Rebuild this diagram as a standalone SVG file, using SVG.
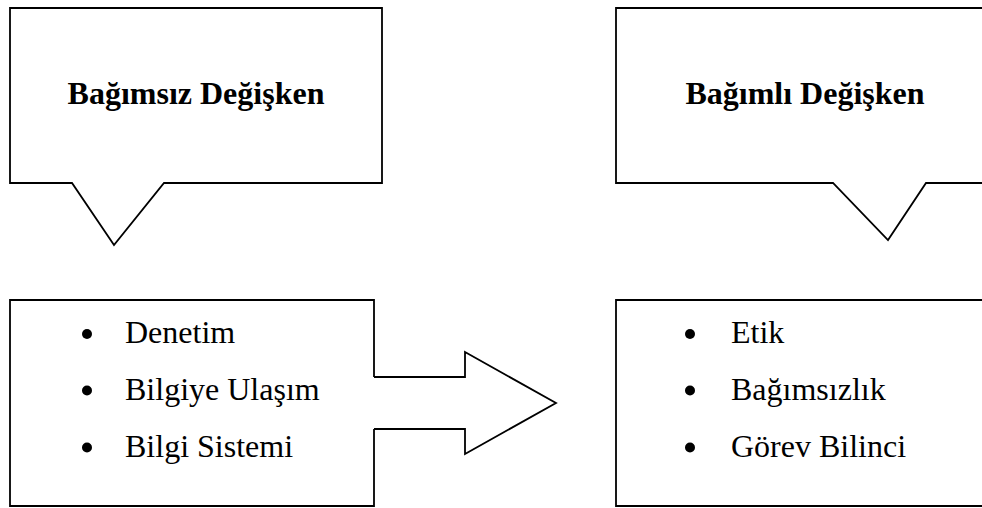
<svg xmlns="http://www.w3.org/2000/svg" width="982" height="508" viewBox="0 0 982 508">
<style>
.sh{fill:none;stroke:#000;stroke-width:1.8;stroke-linejoin:miter}
.t{font-family:"Liberation Serif","Times New Roman",serif;font-size:32px;fill:#000}
.b{font-weight:bold;text-anchor:middle}
.dot{fill:#000}
</style>
<rect width="982" height="508" fill="#fff"/>
<g id="callout-independent">
<path class="sh" d="M10,8 H382 V183 H164 L114,245 L72,183 H10 Z"/>
<text class="t b" x="196" y="104">Bağımsız Değişken</text>
</g>
<g id="callout-dependent">
<path class="sh" d="M990,8 H616 V183 H833 L888,240 L926,183 H990"/>
<text class="t b" x="805" y="104">Bağımlı Değişken</text>
</g>
<g id="independent-list">
<path class="sh" d="M374,377 V300 H10 V506 H374 V429"/>
<circle class="dot" cx="87" cy="334" r="5"/>
<circle class="dot" cx="87" cy="390.5" r="5"/>
<circle class="dot" cx="87" cy="447.5" r="5"/>
<text class="t" x="125" y="343">Denetim</text>
<text class="t" x="125" y="400">Bilgiye Ulaşım</text>
<text class="t" x="125" y="457">Bilgi Sistemi</text>
</g>
<g id="dependent-list">
<path class="sh" d="M990,300 H616 V506 H990"/>
<circle class="dot" cx="690" cy="334" r="5"/>
<circle class="dot" cx="690" cy="390.5" r="5"/>
<circle class="dot" cx="690" cy="447.5" r="5"/>
<text class="t" x="731" y="343">Etik</text>
<text class="t" x="731" y="400">Bağımsızlık</text>
<text class="t" x="731" y="457">Görev Bilinci</text>
</g>
<g id="connectors">
<path class="sh" d="M374,377 H465 V352 L556,403 L465,454 V429 H374"/>
</g>
</svg>
